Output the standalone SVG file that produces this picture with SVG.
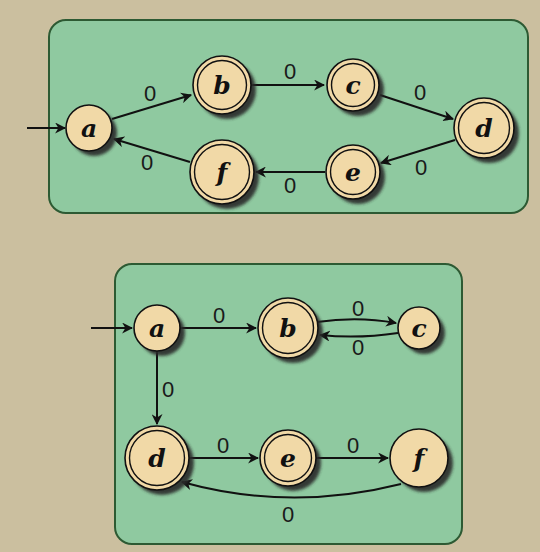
<svg xmlns="http://www.w3.org/2000/svg" width="540" height="552" viewBox="0 0 540 552">
<style>
.box{fill:#8fc9a0;stroke:#2d5a33;stroke-width:2}
.nd{fill:#f1d9a7;stroke:#111;stroke-width:1.6}
.in{fill:none;stroke:#111;stroke-width:1.4}
.sh{fill:#2a2a2a;opacity:0.9;filter:url(#blur)}
.nl{font-family:"DejaVu Serif","Liberation Serif",serif;font-weight:bold;font-style:italic;font-size:25px;fill:#111;text-anchor:middle;dominant-baseline:central}
.el{font-family:"Liberation Sans","DejaVu Sans",sans-serif;font-size:22px;fill:#1a1a1a;text-anchor:middle;dominant-baseline:central}
.e{fill:none;stroke:#111;stroke-width:2;marker-end:url(#ar)}
</style>
<defs>
<filter id="blur" x="-30%" y="-30%" width="160%" height="160%"><feGaussianBlur stdDeviation="1.5"/></filter>
<marker id="ar" viewBox="0 0 10 10" refX="9" refY="5" markerWidth="5.5" markerHeight="5.5" orient="auto" markerUnits="strokeWidth">
<path d="M0,0 L10,5 L0,10 L3,5 Z" fill="#111"/>
</marker>
</defs>
<rect width="540" height="552" fill="#cbbf9f"/>
<rect class="box" x="49" y="20" width="479" height="193" rx="17"/>
<rect class="box" x="115" y="264" width="347" height="280" rx="17"/>

<g id="connectors">
<path class="e" d="M27,128 L65,128"/>
<path class="e" d="M112,119 L191,95"/>
<path class="e" d="M251,85 L324,85"/>
<path class="e" d="M380,95 L453,119"/>
<path class="e" d="M455,140 L381,163"/>
<path class="e" d="M325,172 L256,172"/>
<path class="e" d="M190,162 L114,139"/>
<path class="e" d="M91,328 L132,328"/>
<path class="e" d="M180,328 L256,328"/>
<path class="e" d="M317,322 Q358,316 396,323"/>
<path class="e" d="M398,333 Q358,339 320,335"/>
<path class="e" d="M157,351 L157,424"/>
<path class="e" d="M189,458 L258,458"/>
<path class="e" d="M316,458 L388,458"/>
<path class="e" d="M401,484 Q290,512 182,482"/>
</g>
<g id="edge-labels">
<text class="el" x="150" y="93">0</text>
<text class="el" x="290" y="71">0</text>
<text class="el" x="420" y="92">0</text>
<text class="el" x="421" y="167">0</text>
<text class="el" x="290" y="185">0</text>
<text class="el" x="147" y="162">0</text>
<text class="el" x="219" y="315">0</text>
<text class="el" x="358" y="308">0</text>
<text class="el" x="358" y="347">0</text>
<text class="el" x="168" y="389">0</text>
<text class="el" x="223" y="445">0</text>
<text class="el" x="353" y="445">0</text>
<text class="el" x="288" y="514">0</text>
</g>

<g id="t-a"><circle class="sh" cx="94" cy="133" r="23"/><circle class="nd" cx="89" cy="128" r="23"/><text class="nl" x="89" y="128">a</text></g>
<g id="t-b"><circle class="sh" cx="227" cy="90" r="29"/><circle class="nd" cx="222" cy="85" r="29"/><circle class="in" cx="222" cy="85" r="24.5"/><text class="nl" x="222" y="85">b</text></g>
<g id="t-c"><circle class="sh" cx="358" cy="90" r="26"/><circle class="nd" cx="353" cy="85" r="26"/><circle class="in" cx="353" cy="85" r="21.5"/><text class="nl" x="353" y="85">c</text></g>
<g id="t-d"><circle class="sh" cx="489" cy="133" r="30"/><circle class="nd" cx="484" cy="128" r="30"/><circle class="in" cx="484" cy="128" r="25.5"/><text class="nl" x="484" y="128">d</text></g>
<g id="t-e"><circle class="sh" cx="358" cy="177" r="27"/><circle class="nd" cx="353" cy="172" r="27"/><circle class="in" cx="353" cy="172" r="22.5"/><text class="nl" x="353" y="172">e</text></g>
<g id="t-f"><circle class="sh" cx="227" cy="177" r="32"/><circle class="nd" cx="222" cy="172" r="32"/><circle class="in" cx="222" cy="172" r="27.5"/><text class="nl" x="222" y="172">f</text></g>

<g id="b-a"><circle class="sh" cx="162" cy="333" r="23"/><circle class="nd" cx="157" cy="328" r="23"/><text class="nl" x="157" y="328">a</text></g>
<g id="b-b"><circle class="sh" cx="293" cy="333" r="30"/><circle class="nd" cx="288" cy="328" r="30"/><circle class="in" cx="288" cy="328" r="25.5"/><text class="nl" x="288" y="328">b</text></g>
<g id="b-c"><circle class="sh" cx="424" cy="333" r="21"/><circle class="nd" cx="419" cy="328" r="21"/><text class="nl" x="419" y="328">c</text></g>
<g id="b-d"><circle class="sh" cx="162" cy="463" r="32"/><circle class="nd" cx="157" cy="458" r="32"/><circle class="in" cx="157" cy="458" r="27.5"/><text class="nl" x="157" y="458">d</text></g>
<g id="b-e"><circle class="sh" cx="293" cy="463" r="28"/><circle class="nd" cx="288" cy="458" r="28"/><circle class="in" cx="288" cy="458" r="23.5"/><text class="nl" x="288" y="458">e</text></g>
<g id="b-f"><circle class="sh" cx="424" cy="463" r="29"/><circle class="nd" cx="419" cy="458" r="29"/><text class="nl" x="419" y="458">f</text></g>
</svg>
